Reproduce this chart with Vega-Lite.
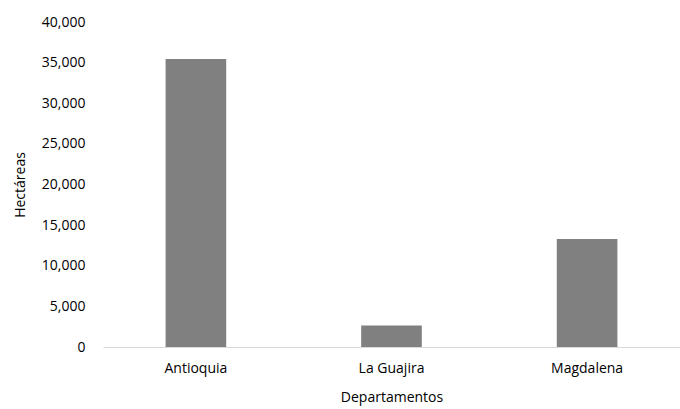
{
  "$schema": "https://vega.github.io/schema/vega-lite/v6.json",
  "width": 577,
  "height": 325,
  "autosize": {"type": "none"},
  "padding": {"left": 103, "top": 22, "right": 0, "bottom": 62},
  "background": "white",
  "config": {
    "view": {"stroke": null},
    "font": "Open Sans",
    "axis": {"labelFont": "Open Sans", "titleFont": "Open Sans", "labelColor": "#000000", "titleColor": "#000000", "titleFontWeight": "normal", "labelFontSize": 14, "titleFontSize": 14}
  },
  "data": {
    "values": [
      {"Departamento": "Antioquia", "Hectareas": 35450},
      {"Departamento": "La Guajira", "Hectareas": 2640},
      {"Departamento": "Magdalena", "Hectareas": 13300}
    ]
  },
  "mark": {"type": "bar", "color": "#808080"},
  "encoding": {
    "x": {
      "field": "Departamento",
      "type": "nominal",
      "sort": null,
      "scale": {"paddingInner": 0.69, "paddingOuter": 0.32},
      "axis": {"title": "Departamentos", "labelAngle": 0, "ticks": false, "domainColor": "#d9d9d9", "domainWidth": 1, "labelPadding": 14, "titlePadding": 15}
    },
    "y": {
      "field": "Hectareas",
      "type": "quantitative",
      "scale": {"domain": [0, 40000]},
      "axis": {"title": "Hectáreas", "values": [0, 5000, 10000, 15000, 20000, 25000, 30000, 35000, 40000], "format": ",.0f", "grid": false, "domain": false, "ticks": false, "labelPadding": 18, "titlePadding": 14}
    }
  }
}
